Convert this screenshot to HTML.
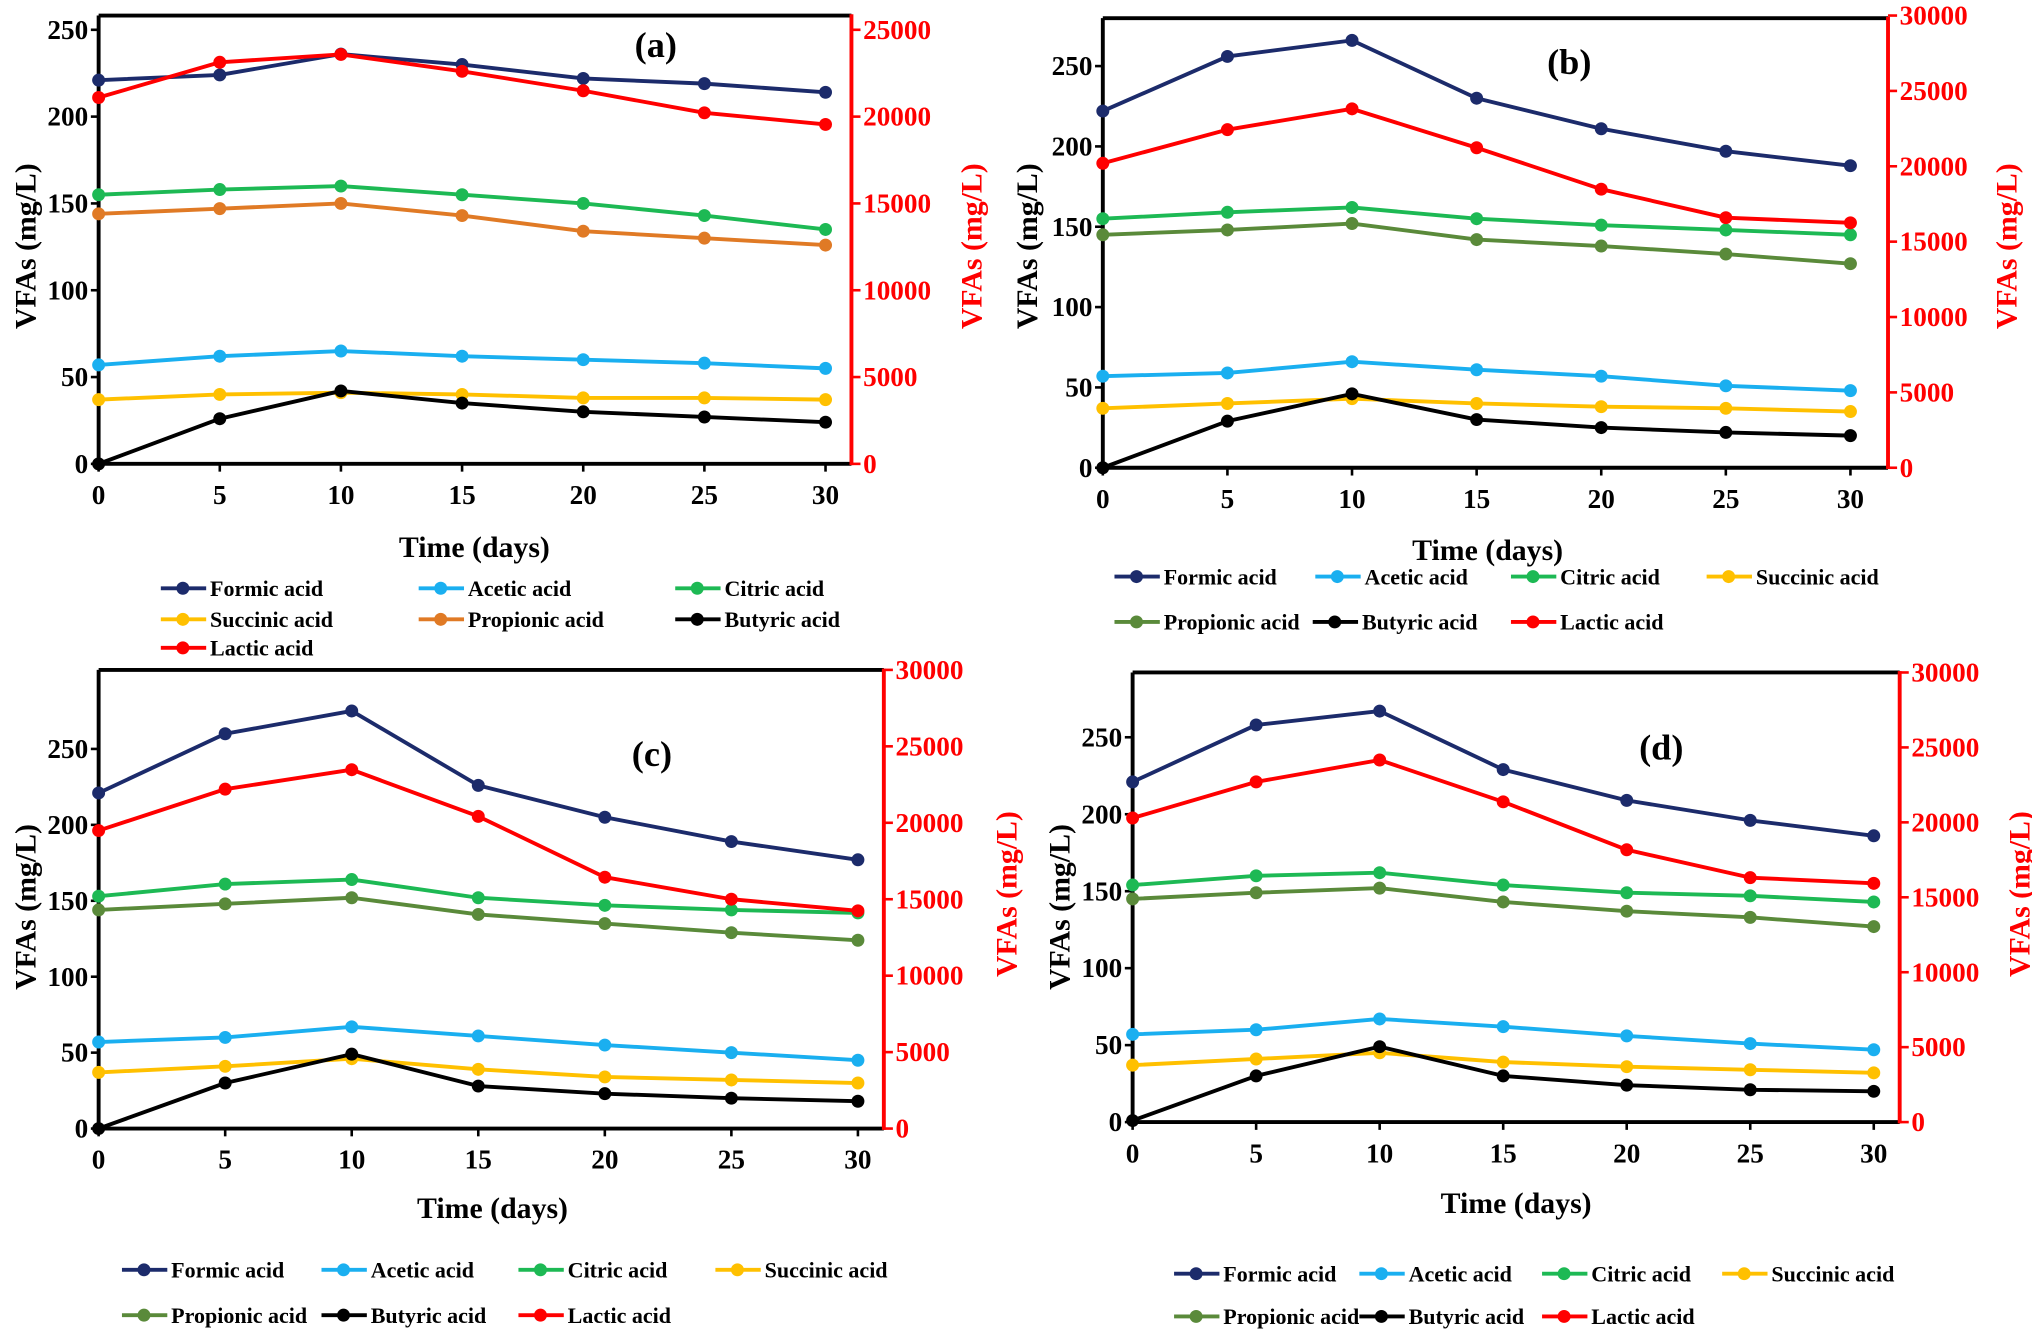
<!DOCTYPE html>
<html><head><meta charset="utf-8">
<style>
html,body{margin:0;padding:0;background:#fff;}
svg{display:block;}
text{font-family:"Liberation Serif",serif;font-weight:bold;}
</style></head>
<body>
<svg id="fig" width="2032" height="1332" viewBox="0 0 1568 1028" xmlns="http://www.w3.org/2000/svg"></svg>
<script>
const days = [0, 5, 10, 15, 20, 25, 30];
const leftTicks = [0, 50, 100, 150, 200, 250];
const rightTicks25 = [0, 5000, 10000, 15000, 20000, 25000];
const rightTicks30 = [0, 5000, 10000, 15000, 20000, 25000, 30000];
const seriesNames = ["Formic acid","Acetic acid","Citric acid","Succinic acid","Propionic acid","Butyric acid","Lactic acid"];

// panel (a)
const formicA = [221,224,236,230,222,219,214];
const aceticA = [57,62,65,62,60,58,55];
const citricA = [155,158,160,155,150,143,135];
const succinicA = [37,40,41,40,38,38,37];
const propionicA = [144,147,150,143,134,130,126];
const butyricA = [0,26,42,35,30,27,24];
const lacticA = [21100,23130,23580,22610,21490,20220,19550];
// panel (b)
const formicB = [222,256,266,230,211,197,188];
const aceticB = [57,59,66,61,57,51,48];
const citricB = [155,159,162,155,151,148,145];
const succinicB = [37,40,43,40,38,37,35];
const propionicB = [145,148,152,142,138,133,127];
const butyricB = [0,29,46,30,25,22,20];
const lacticB = [20200,22430,23810,21230,18480,16590,16250];
// panel (c)
const formicC = [221,260,275,226,205,189,177];
const aceticC = [57,60,67,61,55,50,45];
const citricC = [153,161,164,152,147,144,142];
const succinicC = [37,41,46,39,34,32,30];
const propionicC = [144,148,152,141,135,129,124];
const butyricC = [0,30,49,28,23,20,18];
const lacticC = [19490,22200,23470,20420,16440,15000,14240];
// panel (d)
const formicD = [221,258,267,229,209,196,186];
const aceticD = [57,60,67,62,56,51,47];
const citricD = [154,160,162,154,149,147,143];
const succinicD = [37,41,45,39,36,34,32];
const propionicD = [145,149,152,143,137,133,127];
const butyricD = [1,30,49,30,24,21,20];
const lacticD = [20290,22700,24160,21370,18170,16310,15930];

const NS = "http://www.w3.org/2000/svg";
const svg = document.getElementById("fig");
function mk(tag, attrs, parent){
  const e = document.createElementNS(NS, tag);
  for (const k in attrs) e.setAttribute(k, attrs[k]);
  (parent||svg).appendChild(e);
  return e;
}
const colors = {formic:"#1c2b6b",acetic:"#1aaff0",citric:"#1db954",succinic:"#ffc000",butyric:"#000000",lactic:"#ff0000"};

const panels = [
 {id:"a",left:76,right:657,top:12,bottom:358,x0:76,x30:637,lspan:335,rmax:25000,rspan:335,rticks:rightTicks25,
  label:[506,44],time:[366,430],ltitle:[22,190],rtitle:[752,190],prop:"#e07a25",
  data:[formicA,aceticA,citricA,succinicA,propionicA,butyricA,lacticA],
  legend:[[124,454],[323,454],[521,454],[124,478],[323,478],[521,478],[124,500]]},
 {id:"b",left:851,right:1457,top:14,bottom:361,x0:851,x30:1428,lspan:310,rmax:30000,rspan:349,rticks:rightTicks30,
  label:[1211,57],time:[1148,432],ltitle:[795,190],rtitle:[1551,190],prop:"#5a8a3a",
  data:[formicB,aceticB,citricB,succinicB,propionicB,butyricB,lacticB],
  legend:[[860,445],[1015,445],[1166,445],[1317,445],[860,480],[1013,480],[1166,480]]},
 {id:"c",left:76,right:682,top:517,bottom:871,x0:76,x30:662,lspan:293,rmax:30000,rspan:354,rticks:rightTicks30,
  label:[503,591],time:[380,940],ltitle:[22,700],rtitle:[779,690],prop:"#5a8a3a",
  data:[formicC,aceticC,citricC,succinicC,propionicC,butyricC,lacticC],
  legend:[[94,980],[248,980],[400,980],[552,980],[94,1015],[248,1015],[400,1015]]},
 {id:"d",left:874,right:1466,top:519,bottom:866,x0:874,x30:1446,lspan:297,rmax:30000,rspan:347,rticks:rightTicks30,
  label:[1282,586],time:[1170,936],ltitle:[820,700],rtitle:[1561,690],prop:"#5a8a3a",
  data:[formicD,aceticD,citricD,succinicD,propionicD,butyricD,lacticD],
  legend:[[906,983],[1049,983],[1190,983],[1329,983],[906,1016],[1049,1016],[1190,1016]]}
];

panels.forEach(p=>{
  const g = mk("g",{});
  
  
  const xs = d => p.x0 + (d/30)*(p.x30-p.x0);
  const yl = v => p.bottom - v*p.lspan/250;
  const yr = v => p.bottom - v*p.rspan/p.rmax;
  // frame
  const top = mk("line",{x1:p.left,y1:p.top,x2:p.right,y2:p.top,stroke:"#000","stroke-width":3},g);
  
  
  const la = mk("line",{x1:p.left,y1:p.top,x2:p.left,y2:p.bottom+1,stroke:"#000","stroke-width":3},g);
  
  
  const xa = mk("line",{x1:p.left,y1:p.bottom,x2:p.right,y2:p.bottom,stroke:"#000","stroke-width":3},g);
  
  
  const ra = mk("line",{x1:p.right,y1:p.top-1,x2:p.right,y2:p.bottom+1,stroke:"#ff0000","stroke-width":3},g);
  
  
  leftTicks.forEach(t=>{
    const y = yl(t);
    if (y < p.top-2) return;
    mk("line",{x1:p.left-6,y1:y,x2:p.left,y2:y,stroke:"#000","stroke-width":2},g);
    const tx = mk("text",{x:p.left-8,y:y+7,"text-anchor":"end","font-size":21,fill:"#000"},g);
    tx.textContent = t;
    
    
  });
  p.rticks.forEach(t=>{
    const y = yr(t);
    mk("line",{x1:p.right,y1:y,x2:p.right+7,y2:y,stroke:"#ff0000","stroke-width":2},g);
    const tx = mk("text",{x:p.right+9,y:y+7,"text-anchor":"start","font-size":21,fill:"#ff0000"},g);
    tx.textContent = t;
    
    
  });
  days.forEach(d=>{
    const x = xs(d);
    mk("line",{x1:x,y1:p.bottom,x2:x,y2:p.bottom+6,stroke:"#000","stroke-width":2},g);
    const tx = mk("text",{x:x,y:p.bottom+31,"text-anchor":"middle","font-size":21,fill:"#000"},g);
    tx.textContent = d;
    
    
  });
  const tl = mk("text",{x:p.time[0],y:p.time[1],"text-anchor":"middle","font-size":23,fill:"#000"},g);
  tl.textContent = "Time (days)";
  
  
  const lt = mk("text",{x:p.ltitle[0],y:p.ltitle[1],"text-anchor":"middle","font-size":23,fill:"#000",transform:`rotate(-90 ${p.ltitle[0]} ${p.ltitle[1]})`,"dominant-baseline":"middle"},g);
  lt.textContent = "VFAs (mg/L)";
  
  
  const rt = mk("text",{x:p.rtitle[0],y:p.rtitle[1],"text-anchor":"middle","font-size":23,fill:"#ff0000",transform:`rotate(-90 ${p.rtitle[0]} ${p.rtitle[1]})`,"dominant-baseline":"middle"},g);
  rt.textContent = "VFAs (mg/L)";
  
  
  const pl = mk("text",{x:p.label[0],y:p.label[1],"text-anchor":"middle","font-size":28,fill:"#000"},g);
  pl.textContent = "(" + p.id + ")";
  
  

  const cols = [colors.formic,colors.acetic,colors.citric,colors.succinic,p.prop,colors.butyric,colors.lactic];
  const keys = ["formic","acetic","citric","succinic","propionic","butyric","lactic"];
  const order = [3,1,4,2,5,0,6];
  order.forEach(i=>{
    const vals = p.data[i];
    const yf = i===6 ? yr : yl;
    const pts = vals.map((v,j)=>xs(days[j])+","+yf(v)).join(" ");
    const line = mk("polyline",{points:pts,fill:"none",stroke:cols[i],"stroke-width":3,"stroke-linejoin":"round"},g);
    
    
    vals.forEach((v,j)=>{
      const c = mk("circle",{cx:xs(days[j]),cy:yf(v),r:5,fill:cols[i]},g);
      
      
    });
  });
  // legend
  seriesNames.forEach((n,i)=>{
    const [lx,ly] = p.legend[i];
    const lg = mk("g",{},g);
    
    
    mk("line",{x1:lx,y1:ly,x2:lx+35,y2:ly,stroke:cols[i],"stroke-width":3},lg);
    mk("circle",{cx:lx+17,cy:ly,r:5,fill:cols[i]},lg);
    const t = mk("text",{x:lx+38,y:ly+6,"font-size":17,fill:"#000"},lg);
    t.textContent = n;
  });
});
</script>
</body></html>
